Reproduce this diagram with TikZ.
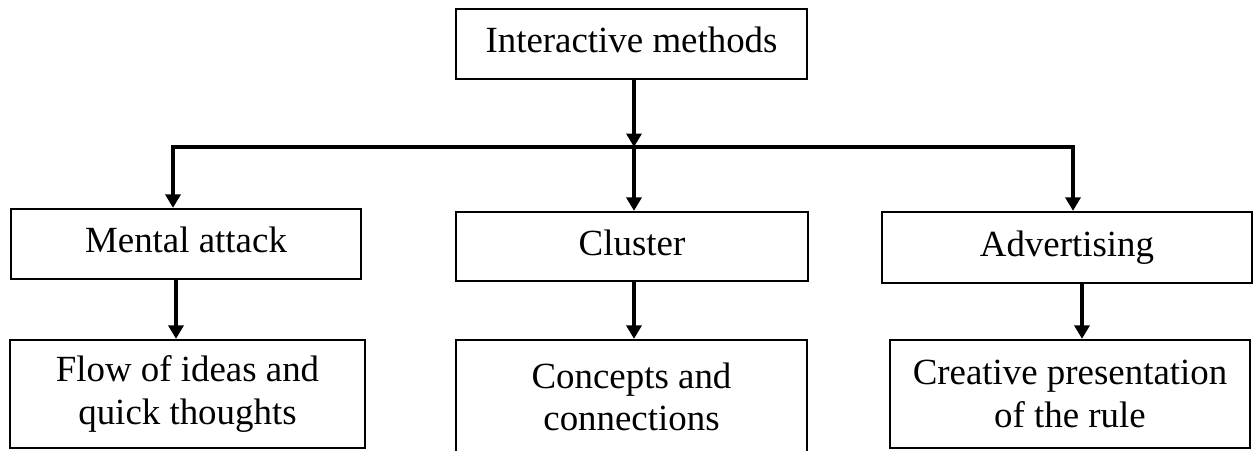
\documentclass[tikz,border=0pt]{standalone}
\usepackage{fontspec}
\setmainfont{Liberation Serif}
\usetikzlibrary{arrows.meta}
\tikzset{
  box/.style={draw=black, line width=1.3pt, fill=white, align=center, inner sep=0pt,
    font=\fontsize{21}{24}\selectfont},
  headbox/.style={box, text height=0.5cm, text depth=0.15cm},
  link/.style={line width=2pt, -{Triangle[length=0.27cm,width=0.3cm]}},
}
\begin{document}
\begin{tikzpicture}[x=0.02cm,y=-0.02cm]
\useasboundingbox (0,0) rectangle (1254,450);
% top
\node[headbox, minimum width=7.02cm, minimum height=1.4cm] (methods) at (631.5,44) {Interactive methods};
% methods
\node[headbox, minimum width=7cm, minimum height=1.4cm] (mental) at (186,244) {Mental attack};
\node[headbox, minimum width=7.04cm, minimum height=1.38cm] (cluster) at (632,246.5) {Cluster};
\node[headbox, minimum width=7.4cm, minimum height=1.42cm] (advert) at (1067,247.5) {Advertising};
% results
\node[box, minimum width=7.1cm, minimum height=2.16cm] (flow) at (187.5,394) {Flow of ideas and\\quick thoughts};
\node[box, minimum width=7.02cm, minimum height=2.26cm] (concepts) at (631.5,396.5) {Concepts and\\connections};
\node[box, minimum width=7.2cm, minimum height=2.16cm] (creative) at (1070,394) {Creative presentation\\of the rule};
% bus
\coordinate (busL) at (173,147);
\coordinate (busM) at (634,147);
\coordinate (busR) at (1073,147);
\coordinate (dropA) at (176,0);
\coordinate (dropB) at (634,0);
\coordinate (dropC) at (1082,0);
\draw[link] (methods.south -| busM) -- (busM);
\draw[link] (busM) -- (busL) -- (busL |- mental.north);
\draw[link] (busM) -- (busR) -- (busR |- advert.north);
\draw[link] (busM) -- (busM |- cluster.north);
\draw[link] (mental.south -| dropA) -- (flow.north -| dropA);
\draw[link] (cluster.south -| dropB) -- (concepts.north -| dropB);
\draw[link] (advert.south -| dropC) -- (creative.north -| dropC);
\end{tikzpicture}
\end{document}
